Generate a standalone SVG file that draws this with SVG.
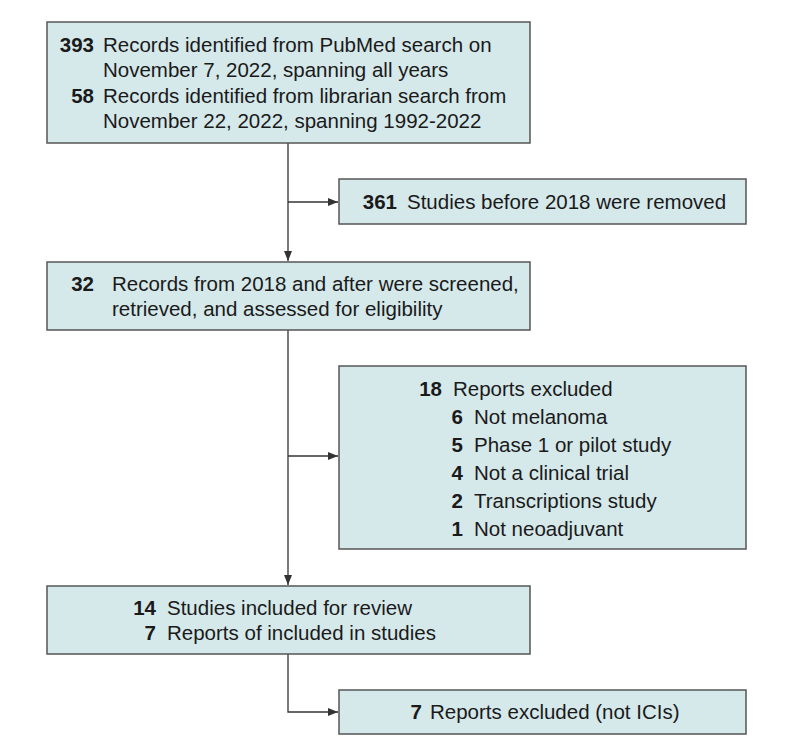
<svg xmlns="http://www.w3.org/2000/svg" width="794" height="755" viewBox="0 0 794 755">
<style>
.box{fill:#d5e8ea;stroke:#555;stroke-width:1.5}
text{font-family:"Liberation Sans",Arial,sans-serif;font-size:20.5px;fill:#1a1a1a}
.n{font-weight:bold;text-anchor:end}
.c{fill:none;stroke:#333;stroke-width:1.3}
</style>
<defs>
<marker id="ah" viewBox="0 0 10 8" refX="10" refY="4" markerWidth="10" markerHeight="8" markerUnits="userSpaceOnUse" orient="auto">
<path d="M0,0 L10,4 L0,8 Z" fill="#333"/>
</marker>
</defs>
<rect width="794" height="755" fill="#fff"/>
<g id="connectors">
<path class="c" d="M288,143 V261" marker-end="url(#ah)"/>
<path class="c" d="M288,202 H338" marker-end="url(#ah)"/>
<path class="c" d="M288,330 V585" marker-end="url(#ah)"/>
<path class="c" d="M288,456 H338" marker-end="url(#ah)"/>
<path class="c" d="M288,654 V712 H338" marker-end="url(#ah)"/>
</g>
<g id="node-identified">
<rect class="box" x="47" y="22" width="483" height="121"/>
<text class="n" x="94" y="52">393</text>
<text x="103" y="52">Records identified from PubMed search on</text>
<text x="103" y="77">November 7, 2022, spanning all years</text>
<text class="n" x="94" y="103">58</text>
<text x="103" y="103">Records identified from librarian search from</text>
<text x="103" y="128">November 22, 2022, spanning 1992-2022</text>
</g>
<g id="node-removed">
<rect class="box" x="339" y="179" width="407" height="45"/>
<text class="n" x="397" y="209">361</text>
<text x="407" y="209">Studies before 2018 were removed</text>
</g>
<g id="node-screened">
<rect class="box" x="47" y="262" width="483" height="68"/>
<text class="n" x="94" y="291">32</text>
<text x="112" y="291">Records from 2018 and after were screened,</text>
<text x="112" y="316">retrieved, and assessed for eligibility</text>
</g>
<g id="node-excluded">
<rect class="box" x="339" y="366" width="407" height="183"/>
<text class="n" x="442" y="396">18</text>
<text x="453" y="396">Reports excluded</text>
<text class="n" x="463" y="424">6</text>
<text x="474" y="424">Not melanoma</text>
<text class="n" x="463" y="452">5</text>
<text x="474" y="452">Phase 1 or pilot study</text>
<text class="n" x="463" y="480">4</text>
<text x="474" y="480">Not a clinical trial</text>
<text class="n" x="463" y="508">2</text>
<text x="474" y="508">Transcriptions study</text>
<text class="n" x="463" y="536">1</text>
<text x="474" y="536">Not neoadjuvant</text>
</g>
<g id="node-included">
<rect class="box" x="47" y="586" width="483" height="68"/>
<text class="n" x="156" y="615">14</text>
<text x="167" y="615">Studies included for review</text>
<text class="n" x="156" y="640">7</text>
<text x="167" y="640">Reports of included in studies</text>
</g>
<g id="node-notici">
<rect class="box" x="339" y="690" width="407" height="44"/>
<text class="n" x="422" y="719">7</text>
<text x="430" y="719">Reports excluded (not ICIs)</text>
</g>
</svg>
